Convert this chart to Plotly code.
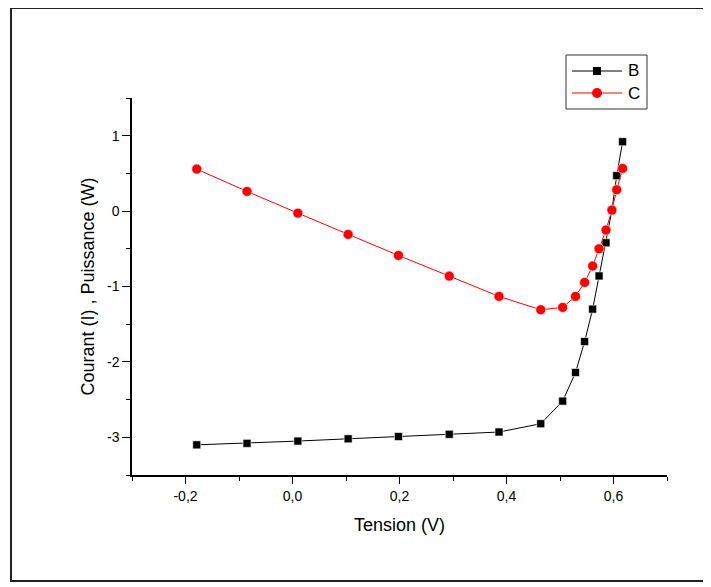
import plotly.graph_objects as go

# Tension (V)
tension = [-0.179, -0.085, 0.010, 0.104, 0.198, 0.293, 0.386, 0.464,
           0.505, 0.529, 0.546, 0.561, 0.573, 0.586, 0.597, 0.606, 0.617]
# B : Courant (I)
courant_B = [-3.10, -3.08, -3.05, -3.02, -2.99, -2.96, -2.93, -2.82,
             -2.52, -2.14, -1.73, -1.30, -0.86, -0.42, 0.01, 0.47, 0.92]
# C : Puissance (W)
puissance_C = [0.557, 0.261, -0.027, -0.309, -0.588, -0.862, -1.131, -1.309,
               -1.277, -1.131, -0.946, -0.729, -0.500, -0.252, 0.013, 0.283, 0.566]

series_names = ["B", "C"]
series_colors = ["black", "red"]

x_tickvals = [-0.2, 0.0, 0.2, 0.4, 0.6]
x_ticktext = ["-0,2", "0,0", "0,2", "0,4", "0,6"]
x_minorvals = [-0.3, -0.1, 0.1, 0.3, 0.5, 0.7]
y_tickvals = [-3, -2, -1, 0, 1]
y_ticktext = ["-3", "-2", "-1", "0", "1"]
y_minorvals = [-3.5, -2.5, -1.5, -0.5, 0.5, 1.5]

FONT = "Liberation Sans, Arial, sans-serif"

fig = go.Figure()
fig.add_trace(go.Scatter(
    x=tension, y=courant_B, name=series_names[0], mode="lines+markers",
    line=dict(color=series_colors[0], width=1),
    marker=dict(symbol="square", size=8, color=series_colors[0],
                line=dict(width=0.6, color="white")),
    showlegend=False,
))
fig.add_trace(go.Scatter(
    x=tension, y=puissance_C, name=series_names[1], mode="lines+markers",
    line=dict(color=series_colors[1], width=1),
    marker=dict(symbol="circle", size=10, color=series_colors[1],
                line=dict(width=0.6, color="white")),
    showlegend=False,
))

# page offset of the figure (default body margin)
OFF = 8
W, H = 711 - OFF, 587 - OFF
L, R, T, B = 124, 44, 90, 112
pw, ph = W - L - R, H - T - B


def px_x(p):
    return (p - OFF - L) / pw


def px_y(p):
    return (H - B - (p - OFF)) / ph


shapes = []
# outer frame
shapes.append(dict(type="rect", xref="paper", yref="paper",
                   x0=px_x(11), x1=px_x(705), y0=px_y(581), y1=px_y(8),
                   line=dict(color="#222", width=2), layer="below"))
# legend box
shapes.append(dict(type="rect", xref="paper", yref="paper",
                   x0=px_x(566), x1=px_x(647), y0=px_y(109), y1=px_y(55),
                   line=dict(color="#333", width=1), fillcolor="white"))
annotations = []
rows = [71, 93]
for name, color, ry, sym in zip(series_names, series_colors, rows, ["square", "circle"]):
    shapes.append(dict(type="line", xref="paper", yref="paper",
                       x0=px_x(572), x1=px_x(622), y0=px_y(ry), y1=px_y(ry),
                       line=dict(color=color, width=1)))
    if sym == "square":
        shapes.append(dict(type="rect", xref="paper", yref="paper",
                           x0=px_x(593), x1=px_x(601), y0=px_y(ry + 4), y1=px_y(ry - 4),
                           line=dict(width=0), fillcolor=color))
    else:
        shapes.append(dict(type="circle", xref="paper", yref="paper",
                           x0=px_x(592), x1=px_x(602), y0=px_y(ry + 5), y1=px_y(ry - 5),
                           line=dict(width=0), fillcolor=color))
    annotations.append(dict(xref="paper", yref="paper", x=px_x(626), y=px_y(ry),
                            xanchor="left", yanchor="middle", showarrow=False,
                            text=name, font=dict(size=17, family=FONT, color="black")))

fig.update_layout(
    width=W, height=H,
    margin=dict(l=L, r=R, t=T, b=B, pad=0),
    paper_bgcolor="white", plot_bgcolor="white",
    font=dict(family=FONT, color="black", size=14),
    showlegend=False,
    shapes=shapes, annotations=annotations,
)
fig.update_xaxes(
    range=[-0.3, 0.7], showgrid=False, zeroline=False,
    showline=True, linecolor="black", linewidth=1.5, mirror=False,
    ticks="outside", ticklen=7, tickwidth=1.2, tickcolor="black",
    tickmode="array", tickvals=x_tickvals, ticktext=x_ticktext,
    tickfont=dict(size=14),
    minor=dict(tickmode="array", tickvals=x_minorvals, ticks="outside",
               ticklen=4, tickwidth=1.2, tickcolor="black"),
    title=dict(text="Tension (V)", font=dict(size=18), standoff=16),
)
fig.update_yaxes(
    range=[-3.5, 1.5], showgrid=False, zeroline=False,
    showline=True, linecolor="black", linewidth=1.5, mirror=False,
    ticks="outside", ticklen=8, tickwidth=1.2, tickcolor="black",
    tickmode="array", tickvals=y_tickvals, ticktext=y_ticktext,
    tickfont=dict(size=14),
    minor=dict(tickmode="array", tickvals=y_minorvals, ticks="outside",
               ticklen=4, tickwidth=1.2, tickcolor="black"),
    title=dict(text="Courant (I) , Puissance (W)", font=dict(size=18), standoff=8),
)

fig.write_html("out.html")
